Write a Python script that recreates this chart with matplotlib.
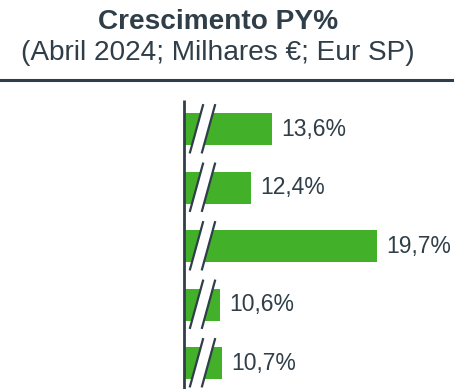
import matplotlib.pyplot as plt
from matplotlib.patches import Polygon

plt.rcParams['font.family'] = ['Liberation Sans', 'DejaVu Sans']

# growth vs previous year, one bar per row (top to bottom)
rows = [0, 1, 2, 3, 4]
growth = [13.6, 12.4, 19.7, 10.6, 10.7]
labels = ['13,6%', '12,4%', '19,7%', '10,6%', '10,7%']

title = 'Crescimento PY%'
subtitle = '(Abril 2024; Milhares €; Eur SP)'

green = '#43b02a'
dark = '#2f3e48'
base = 8.5          # axis is broken, bars start here
xmax = 24.15

W, H = 454, 389
fig = plt.figure(figsize=(W / 100, H / 100), dpi=100)
fig.patch.set_facecolor('white')

ax_l, ax_w, ax_h = 184, 270, 289
ax = fig.add_axes([ax_l / W, 0, ax_w / W, ax_h / H])
ax.set_xlim(base, xmax)
ax.set_ylim(4.44, -0.5)
ax.axis('off')

bar_h = 0.55
ax.barh(rows, [g - base for g in growth], left=base, height=bar_h,
        color=green, edgecolor='none', zorder=2)

# vertical axis line
ax.plot([base, base], [-0.5, 4.44], color=dark, lw=2, zorder=5,
        clip_on=False, solid_capstyle='butt')

upx = (xmax - base) / ax_w          # data units per pixel in x
upy = (4.44 + 0.5) / ax_h           # data units per pixel in y

for r, g, lab in zip(rows, growth, labels):
    y_bot = r + bar_h / 2 + 7 * upy
    y_top = r - bar_h / 2 - 8 * upy
    x0 = base + 6 * upx
    x1 = base + 18 * upx
    dx = 13 * upx
    # white gap of the axis break
    ax.add_patch(Polygon([[x0, y_bot], [x1, y_bot], [x1 + dx, y_top], [x0 + dx, y_top]],
                         closed=True, facecolor='white', edgecolor='none', zorder=3))
    ax.plot([x0, x0 + dx], [y_bot, y_top], color=dark, lw=1.6, zorder=4)
    ax.plot([x1, x1 + dx], [y_bot, y_top], color=dark, lw=1.6, zorder=4)
    ax.text(g + 9 * upx, r, lab, va='center', ha='left', fontsize=16.5, color=dark)

fig.text(218 / W, 1 - 22 / H, title, ha='center', va='center',
         fontsize=20.2, fontweight='bold', color=dark)
fig.text(218 / W, 1 - 53 / H, subtitle, ha='center', va='center',
         fontsize=20.2, color=dark)

# separator under the header
fig.add_artist(plt.Line2D([0, 1], [1 - 79.5 / H, 1 - 79.5 / H], color=dark, lw=2.2))

fig.savefig('out.png', dpi=100, facecolor='white')
